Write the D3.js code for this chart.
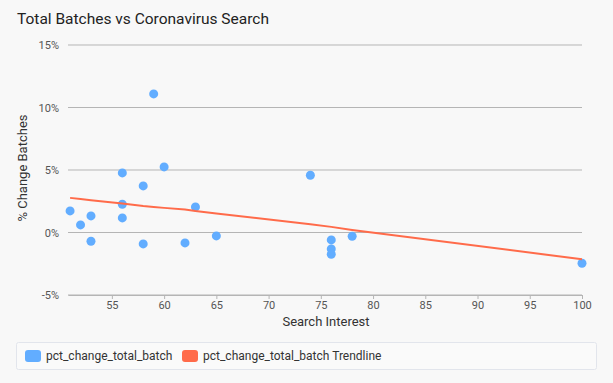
<!DOCTYPE html>
<html>
<head>
<meta charset="utf-8">
<script src="https://cdn.jsdelivr.net/npm/d3@7"></script>
<style>
  body { margin: 0; background: #f8f8f8; }
  svg { display: block; font-family: Roboto, "DejaVu Sans", sans-serif; }
</style>
</head>
<body>
<svg id="chart" width="613" height="383"></svg>
<script>
// search interest vs % change in batches (scatter)
var searchInterest = [51, 52, 53, 53, 56, 56, 56, 58, 58, 59, 60, 62, 63, 65, 74, 76, 76, 76, 78, 100];
var pctChange = [1.73, 0.61, 1.33, -0.7, 4.77, 2.26, 1.17, 3.73, -0.91, 11.09, 5.25, -0.83, 2.05, -0.27, 4.58, -0.59, -1.31, -1.74, -0.3, -2.46];

// trendline as drawn
var trendX = [51, 52, 53, 56, 58, 59, 60, 62, 63, 65, 74, 76, 78, 100];
var trendY = [2.77, 2.68, 2.58, 2.32, 2.12, 2.04, 1.97, 1.84, 1.72, 1.52, 0.66, 0.45, 0.2, -2.14];

var xTicks = [55, 60, 65, 70, 75, 80, 85, 90, 95, 100];
var yTicks = [-5, 0, 5, 10, 15];
var seriesNames = ["pct_change_total_batch", "pct_change_total_batch Trendline"];
var colors = ["#62adff", "#ff6b4a"];

var svg = d3.select("#chart");

var x = d3.scaleLinear().domain([50.8, 100]).range([68, 582]);
var y = d3.scaleLinear().domain([-5, 15]).range([295, 45]);

svg.append("text")
    .attr("x", 17).attr("y", 24)
    .attr("font-size", 15.5).attr("fill", "#222")
    .text("Total Batches vs Coronavirus Search");

// gridlines
svg.append("g").selectAll("line")
    .data(yTicks)
    .enter().append("line")
    .attr("x1", 68).attr("x2", 582)
    .attr("y1", function(d) { return y(d); })
    .attr("y2", function(d) { return y(d); })
    .attr("stroke", "#b5b5b5").attr("stroke-width", 1);

svg.append("g").selectAll("text")
    .data(yTicks)
    .enter().append("text")
    .attr("x", 59)
    .attr("y", function(d) { return y(d) + 4; })
    .attr("text-anchor", "end")
    .attr("font-size", 11).attr("fill", "#555")
    .text(function(d) { return d + "%"; });

// x axis
var xAxis = d3.axisBottom(x).tickValues(xTicks).tickSize(4).tickSizeOuter(0);
var gx = svg.append("g").attr("transform", "translate(0," + y(-5) + ")").call(xAxis);
gx.select(".domain").attr("stroke", "#b5b5b5");
gx.selectAll(".tick line").attr("stroke", "#b5b5b5");
gx.selectAll(".tick text")
    .attr("fill", "#555").attr("font-size", 11)
    .attr("font-family", "Roboto, sans-serif").attr("dy", "0.6em");

svg.append("text")
    .attr("x", 326).attr("y", 326)
    .attr("text-anchor", "middle")
    .attr("font-size", 13).attr("fill", "#333")
    .text("Search Interest");

svg.append("text")
    .attr("transform", "translate(27,168) rotate(-90)")
    .attr("text-anchor", "middle")
    .attr("font-size", 13).attr("fill", "#333")
    .text("% Change Batches");

// points
svg.append("g").selectAll("circle")
    .data(d3.zip(searchInterest, pctChange))
    .enter().append("circle")
    .attr("cx", function(d) { return x(d[0]); })
    .attr("cy", function(d) { return y(d[1]); })
    .attr("r", 4.5)
    .attr("fill", colors[0]);

// trendline
var line = d3.line()
    .x(function(d) { return x(d[0]); })
    .y(function(d) { return y(d[1]); });
svg.append("path")
    .datum(d3.zip(trendX, trendY))
    .attr("d", line)
    .attr("fill", "none")
    .attr("stroke", colors[1])
    .attr("stroke-width", 2);

// legend
svg.append("rect")
    .attr("x", 16.5).attr("y", 342.5)
    .attr("width", 580).attr("height", 27)
    .attr("rx", 2)
    .attr("fill", "#fafafa").attr("stroke", "#e2e5ec");

var legendX = [25, 182];
var lg = svg.append("g").selectAll("g")
    .data(seriesNames)
    .enter().append("g")
    .attr("transform", function(d, i) { return "translate(" + legendX[i] + ",350)"; });
lg.append("rect")
    .attr("width", 16).attr("height", 12).attr("rx", 3)
    .attr("fill", function(d, i) { return colors[i]; });
lg.append("text")
    .attr("x", 21).attr("y", 10)
    .attr("font-size", 12).attr("fill", "#333")
    .text(function(d) { return d; });
</script>
</body>
</html>
